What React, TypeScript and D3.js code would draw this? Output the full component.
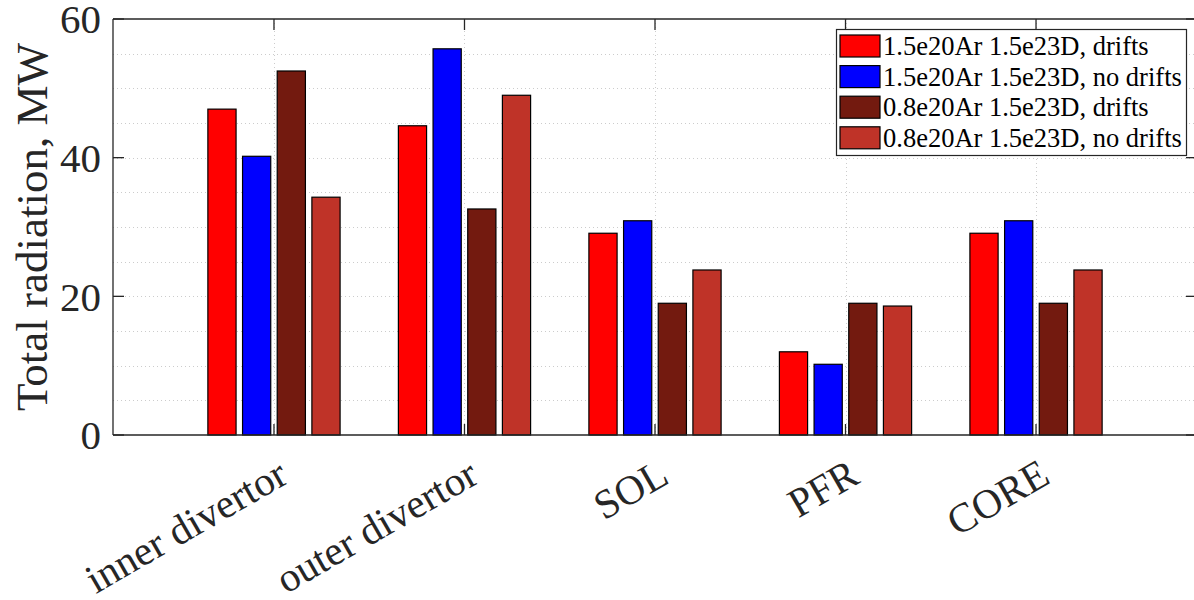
import React from "react";
import * as d3 from "d3";

const categories = ["inner divertor", "outer divertor", "SOL", "PFR", "CORE"];
const seriesNames = [
  "1.5e20Ar 1.5e23D, drifts",
  "1.5e20Ar 1.5e23D, no drifts",
  "0.8e20Ar 1.5e23D, drifts",
  "0.8e20Ar 1.5e23D, no drifts",
];
const seriesColors = ["#FF0000", "#0000FF", "#731A0F", "#BF3328"];
const ar15Drifts = [47.0, 44.6, 29.1, 12.0, 29.1];
const ar15NoDrifts = [40.2, 55.7, 30.9, 10.2, 30.9];
const ar08Drifts = [52.5, 32.6, 19.0, 19.0, 19.0];
const ar08NoDrifts = [34.3, 49.0, 23.8, 18.6, 23.8];
const seriesValues = [ar15Drifts, ar15NoDrifts, ar08Drifts, ar08NoDrifts];
const yTicks = [0, 20, 40, 60];
const yGrid = [5, 10, 15, 20, 25, 30, 35, 40, 45, 50, 55];

export default function App() {
  const W = 1194;
  const H = 600;
  const left = 113, right = 1197, top = 19, bottom = 435;
  const x = d3.scaleLinear().domain([0.155, 5.845]).range([left, right]);
  const y = d3.scaleLinear().domain([0, 60]).range([bottom, top]);
  const pitch = 0.182;
  const bw = 0.148;
  const axisColor = "#262626";
  const font = "'Liberation Serif', 'Times New Roman', serif";
  const tickLen = 11;

  return (
    <svg width={W} height={H} style={{ position: "absolute", left: 0, top: 0, background: "#fff" }}>
      <rect x={0} y={0} width={W} height={H} fill="#fff" />
      {/* grid */}
      <g stroke="#cccccc" strokeWidth={1} strokeDasharray="1,3">
        {yGrid.map((v) => (
          <line key={"gy" + v} x1={left} x2={right} y1={Math.round(y(v)) + 0.5} y2={Math.round(y(v)) + 0.5} />
        ))}
        {categories.map((c, i) => (
          <line key={"gx" + c} x1={Math.round(x(i + 1)) + 0.5} x2={Math.round(x(i + 1)) + 0.5} y1={top} y2={bottom} />
        ))}
      </g>
      {/* bars */}
      {seriesValues.map((vals, s) => (
        <g key={"s" + s} fill={seriesColors[s]} stroke="#000" strokeWidth={1.2}>
          {vals.map((v, i) => {
            const cx = i + 1 + (s - 1.5) * pitch;
            const x0 = x(cx - bw / 2);
            const x1 = x(cx + bw / 2);
            return <rect key={i} x={x0} y={y(v)} width={x1 - x0} height={y(0) - y(v)} />;
          })}
        </g>
      ))}
      {/* axes box */}
      <g stroke={axisColor} strokeWidth={1.3} fill="none">
        <line x1={left} x2={right} y1={bottom} y2={bottom} />
        <line x1={left} x2={right} y1={top} y2={top} />
        <line x1={left} x2={left} y1={top} y2={bottom} />
        <line x1={right} x2={right} y1={top} y2={bottom} />
        {yTicks.map((v) => (
          <g key={"yt" + v}>
            <line x1={left} x2={left + tickLen} y1={y(v)} y2={y(v)} />
            <line x1={right} x2={right - tickLen} y1={y(v)} y2={y(v)} />
          </g>
        ))}
        {categories.map((c, i) => (
          <g key={"xt" + c}>
            <line x1={x(i + 1)} x2={x(i + 1)} y1={bottom} y2={bottom - tickLen} />
            <line x1={x(i + 1)} x2={x(i + 1)} y1={top} y2={top + tickLen} />
          </g>
        ))}
      </g>
      {/* y tick labels */}
      <g fontFamily={font} fontSize={41} fill={axisColor} textAnchor="end">
        {yTicks.map((v) => (
          <text key={"yl" + v} x={left - 12} y={y(v)} dy="0.35em">
            {v}
          </text>
        ))}
      </g>
      {/* x tick labels */}
      <g fontFamily={font} fontSize={41} fill={axisColor} textAnchor="end">
        {categories.map((c, i) => {
          const tx = x(i + 1) + 16;
          const ty = 482;
          return (
            <text key={"xl" + c} x={tx} y={ty} transform={`rotate(-30 ${tx} ${ty})`}>
              {c}
            </text>
          );
        })}
      </g>
      {/* y label */}
      <text
        fontFamily={font}
        fontSize={45}
        fill={axisColor}
        textAnchor="middle"
        transform={`translate(47 ${(top + bottom) / 2}) rotate(-90)`}
      >
        Total radiation, MW
      </text>
      {/* legend */}
      <g>
        <rect x={836.5} y={29.5} width={350} height={126} fill="#fff" stroke={axisColor} strokeWidth={1.2} />
        {seriesNames.map((n, s) => {
          const cy = 46 + s * 30.6;
          return (
            <g key={"lg" + s}>
              <rect x={840} y={cy - 11} width={40} height={22} fill={seriesColors[s]} stroke="#000" strokeWidth={1.2} />
              <text x={883} y={cy} dy="0.35em" fontFamily={font} fontSize={26.5} fill="#000">
                {n}
              </text>
            </g>
          );
        })}
      </g>
    </svg>
  );
}
